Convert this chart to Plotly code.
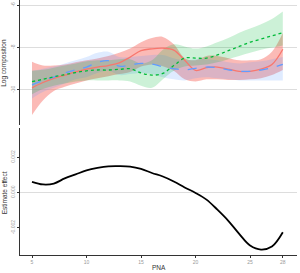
import plotly.graph_objects as go
from plotly.subplots import make_subplots

pna = list(range(5, 29))
x_ticks = [5, 10, 15, 20, 25, 28]

red_mean = [-9.9, -9.65, -9.45, -9.3, -9.15, -9.02, -8.92, -8.85, -8.72, -8.45, -8.15, -8.06,
            -8.03, -8.12, -8.6, -9.08, -8.95, -8.92, -9.02, -9.12, -9.12, -9.02, -8.8, -8.08]
red_upper = [-8.67, -8.85, -8.85, -8.8, -8.7, -8.6, -8.52, -8.4, -8.25, -8.05, -7.75, -7.55,
             -7.5, -7.85, -8.5, -8.6, -8.4, -8.4, -8.5, -8.6, -8.6, -8.55, -8.2, -7.32]
red_lower = [-11.18, -10.5, -10.05, -9.85, -9.7, -9.55, -9.45, -9.35, -9.25, -9.15, -8.9, -8.8,
             -8.88, -9.1, -9.5, -9.6, -9.5, -9.5, -9.53, -9.53, -9.5, -9.45, -9.3, -9.06]

blue_mean = [-9.76, -9.55, -9.4, -9.2, -9.05, -8.92, -8.7, -8.62, -8.88, -8.82, -8.75, -8.78,
             -8.9, -9.0, -9.05, -8.98, -8.92, -8.95, -9.05, -9.12, -9.12, -9.06, -8.95, -8.79]
blue_upper = [-9.1, -9.0, -8.9, -8.75, -8.6, -8.45, -8.25, -8.2, -8.45, -8.45, -8.4, -8.35,
              -8.35, -8.5, -8.6, -8.55, -8.55, -8.6, -8.7, -8.75, -8.7, -8.65, -8.55, -8.45]
blue_lower = [-10.4, -10.1, -9.9, -9.7, -9.5, -9.4, -9.2, -9.1, -9.3, -9.25, -9.2, -9.25,
              -9.4, -9.5, -9.55, -9.45, -9.4, -9.45, -9.5, -9.55, -9.55, -9.55, -9.55, -9.56]

green_mean = [-9.61, -9.5, -9.38, -9.28, -9.18, -9.1, -9.06, -9.06, -9.03, -9.0, -9.2, -9.3,
              -9.22, -8.85, -8.5, -8.5, -8.5, -8.35, -8.15, -7.95, -7.75, -7.6, -7.45, -7.3]
green_upper = [-9.1, -9.05, -8.95, -8.85, -8.75, -8.65, -8.6, -8.6, -8.55, -8.55, -8.75, -8.6,
               -8.1, -7.85, -7.95, -8.05, -7.95, -7.75, -7.55, -7.3, -7.1, -6.9, -6.65, -6.3]
green_lower = [-10.2, -9.95, -9.8, -9.7, -9.6, -9.55, -9.55, -9.55, -9.55, -9.6, -9.8, -9.9,
               -9.5, -9.1, -8.9, -8.85, -8.8, -8.7, -8.55, -8.4, -8.25, -8.1, -8.0, -7.9]

effect = [0.00061, 0.00046, 0.00051, 0.00080, 0.00103, 0.00126, 0.00140, 0.00149, 0.00150,
          0.00147, 0.00134, 0.00111, 0.00091, 0.00063, 0.00029, -0.00002, -0.0004, -0.00097,
          -0.0016, -0.00234, -0.0030, -0.00323, -0.00306, -0.00225]

fig = make_subplots(rows=2, cols=1, shared_xaxes=False)

series = [
    (red_mean, red_upper, red_lower, "#F8766D", "rgba(248,118,109,0.5)", "solid"),
    (blue_mean, blue_upper, blue_lower, "#619CFF", "rgba(97,156,255,0.2)", "dash"),
    (green_mean, green_upper, green_lower, "#00BA38", "rgba(0,186,56,0.2)", "dot"),
]

for mean, up, lo, col, fill, dash in series:
    fig.add_trace(go.Scatter(x=pna, y=up, mode="lines", line=dict(width=0, shape="spline"),
                             showlegend=False, hoverinfo="skip"), row=1, col=1)
    fig.add_trace(go.Scatter(x=pna, y=lo, mode="lines", line=dict(width=0, shape="spline"),
                             fill="tonexty", fillcolor=fill, showlegend=False,
                             hoverinfo="skip"), row=1, col=1)

for mean, up, lo, col, fill, dash in series:
    fig.add_trace(go.Scatter(x=pna, y=mean, mode="lines",
                             line=dict(color=col, width=1.3, dash=dash, shape="spline"),
                             showlegend=False), row=1, col=1)

fig.add_trace(go.Scatter(x=pna, y=effect, mode="lines",
                         line=dict(color="black", width=1.8, shape="spline"),
                         showlegend=False), row=2, col=1)

tickfont = dict(family="Liberation Sans, Arial, sans-serif", size=5, color="#999999")

fig.update_layout(
    width=300, height=273,
    margin=dict(l=20, r=3, t=0, b=18),
    plot_bgcolor="white", paper_bgcolor="white",
    xaxis=dict(domain=[0, 1], range=[3.9, 29.3], showticklabels=False, showgrid=False,
               zeroline=False, showline=False, ticks=""),
    yaxis=dict(domain=[0.51, 1], range=[-11.65, -5.76], tickvals=[-6, -8, -10],
               ticktext=["-6", "-8", "-10"], tickangle=-90, tickfont=tickfont,
               showgrid=True, gridcolor="#dddddd", gridwidth=1, zeroline=False,
               showline=True, linecolor="#333333", linewidth=1, ticks="outside",
               ticklen=2, tickcolor="#333333", automargin=False),
    xaxis2=dict(domain=[0, 1], range=[3.9, 29.3], tickvals=x_ticks, tickfont=tickfont,
                showgrid=False, zeroline=False, showline=True, linecolor="#333333",
                linewidth=1, ticks="outside", ticklen=2, tickcolor="#333333",
                automargin=False),
    yaxis2=dict(domain=[0, 0.498], range=[-0.00354, 0.00366],
                tickvals=[-0.002, 0, 0.002], ticktext=["-0.002", "0.000", "0.002"],
                tickangle=-90, tickfont=tickfont, showgrid=False, zeroline=True,
                zerolinecolor="#dddddd", zerolinewidth=1, showline=True,
                linecolor="#333333", linewidth=1, ticks="outside", ticklen=2,
                tickcolor="#333333", automargin=False),
)

titlefont = dict(family="Liberation Sans, Arial, sans-serif", size=6.5, color="#333333")
fig.add_annotation(text="Log composition", xref="paper", yref="paper", x=-0.035, y=0.755,
                   xanchor="right", yanchor="middle", textangle=-90, showarrow=False,
                   font=titlefont)
fig.add_annotation(text="Estimate effect", xref="paper", yref="paper", x=-0.035, y=0.245,
                   xanchor="right", yanchor="middle", textangle=-90, showarrow=False,
                   font=titlefont)
fig.add_annotation(text="PNA", xref="paper", yref="paper", x=0.5, y=-17.0 / 255,
                   xanchor="center", yanchor="bottom", showarrow=False, font=titlefont,
                   borderpad=0)

fig.write_html("out.html", config={"displayModeBar": False},
               post_script="document.body.style.margin='0';document.body.style.overflow='hidden';")
